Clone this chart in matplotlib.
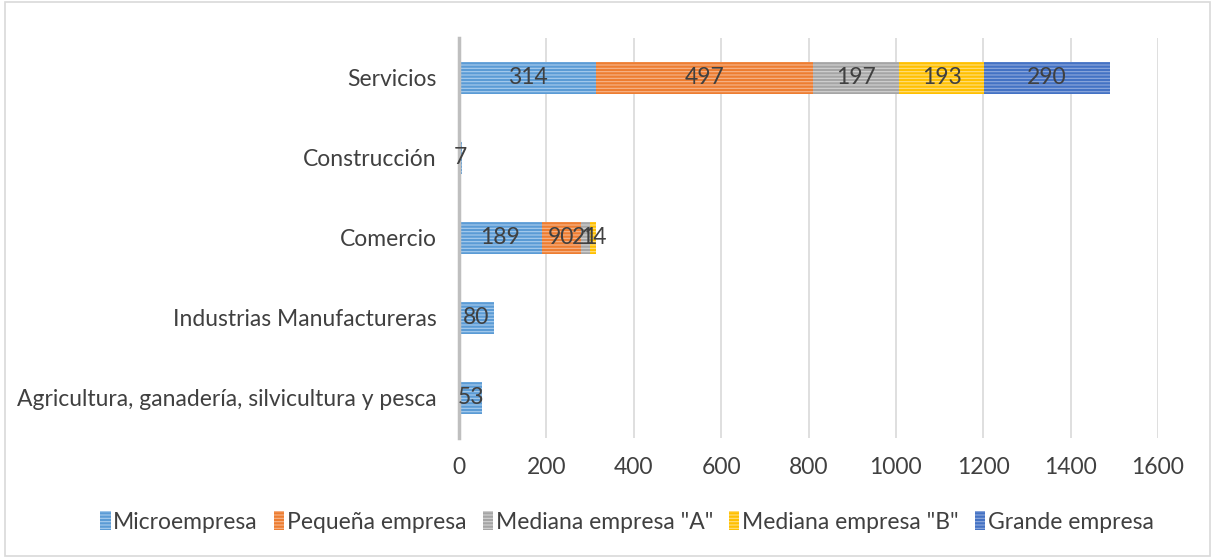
import matplotlib.pyplot as plt
import numpy as np

plt.rcParams['font.family'] = ['Lato', 'DejaVu Sans']

sectores = ['Agricultura, ganadería, silvicultura y pesca', 'Industrias Manufactureras',
            'Comercio', 'Construcción', 'Servicios']
series = ['Microempresa', 'Pequeña empresa', 'Mediana empresa "A"',
          'Mediana empresa "B"', 'Grande empresa']
micro = [53, 80, 189, 7, 314]
pequena = [0, 0, 90, 0, 497]
mediana_a = [0, 0, 21, 0, 197]
mediana_b = [0, 0, 14, 0, 193]
grande = [0, 0, 0, 0, 290]
colores = ['#5B9BD5', '#ED7D31', '#A5A5A5', '#FFC000', '#4472C4']
tramas = ['#A9CDEE', '#F6B68C', '#D2D2D2', '#FFDF80', '#8FA9DD']

fig = plt.figure(figsize=(12.15, 5.58), dpi=100)
ax = fig.add_axes([459 / 1215, 1 - 438 / 558, (1158 - 459) / 1215, 400 / 558])

plt.rcParams['hatch.linewidth'] = 0.8
y = np.arange(len(sectores))
left = np.zeros(len(sectores))
for nombre, vals, c, h in zip(series, [micro, pequena, mediana_a, mediana_b, grande], colores, tramas):
    vals = np.array(vals, dtype=float)
    bars = ax.barh(y, vals, left=left, height=0.4, color=c, edgecolor=h,
                   hatch='-----', linewidth=0, label=nombre, zorder=2)
    labels = [f'{int(v)}' if v > 0 else '' for v in vals]
    txts = ax.bar_label(bars, labels=labels, label_type='center', fontsize=16.5, color='#404040')
    for t in txts:
        t.set_zorder(5)
    left += vals

ax.set_xlim(0, 1600)
ax.set_ylim(-0.5, 4.5)
ax.set_xticks(range(0, 1601, 200))
ax.set_yticks(y)
ax.set_yticklabels(sectores)
ax.tick_params(axis='both', length=0, labelsize=16.5, colors='#404040')
ax.tick_params(axis='y', pad=16)
ax.tick_params(axis='x', pad=14)
ax.grid(axis='x', color='#D9D9D9', linewidth=1.2, zorder=0)
for s in ['top', 'right', 'bottom']:
    ax.spines[s].set_visible(False)
ax.spines['left'].set_color('#BFBFBF')
ax.spines['left'].set_linewidth(2.5)
ax.spines['left'].set_zorder(2.5)

handles, lbls = ax.get_legend_handles_labels()
fig.legend(handles, lbls, loc='center', bbox_to_anchor=(627 / 1215, 1 - 522 / 558), ncol=5,
           frameon=False, fontsize=16.5, labelcolor='#404040', handlelength=0.45, handleheight=0.9,
           handletextpad=0.12, columnspacing=0.7)

fig.patches.append(plt.Rectangle((0.004, 0.004), 0.992, 0.992, transform=fig.transFigure,
                                 fill=False, edgecolor='#D9D9D9', linewidth=1.2))
fig.savefig('out.png', dpi=100)
